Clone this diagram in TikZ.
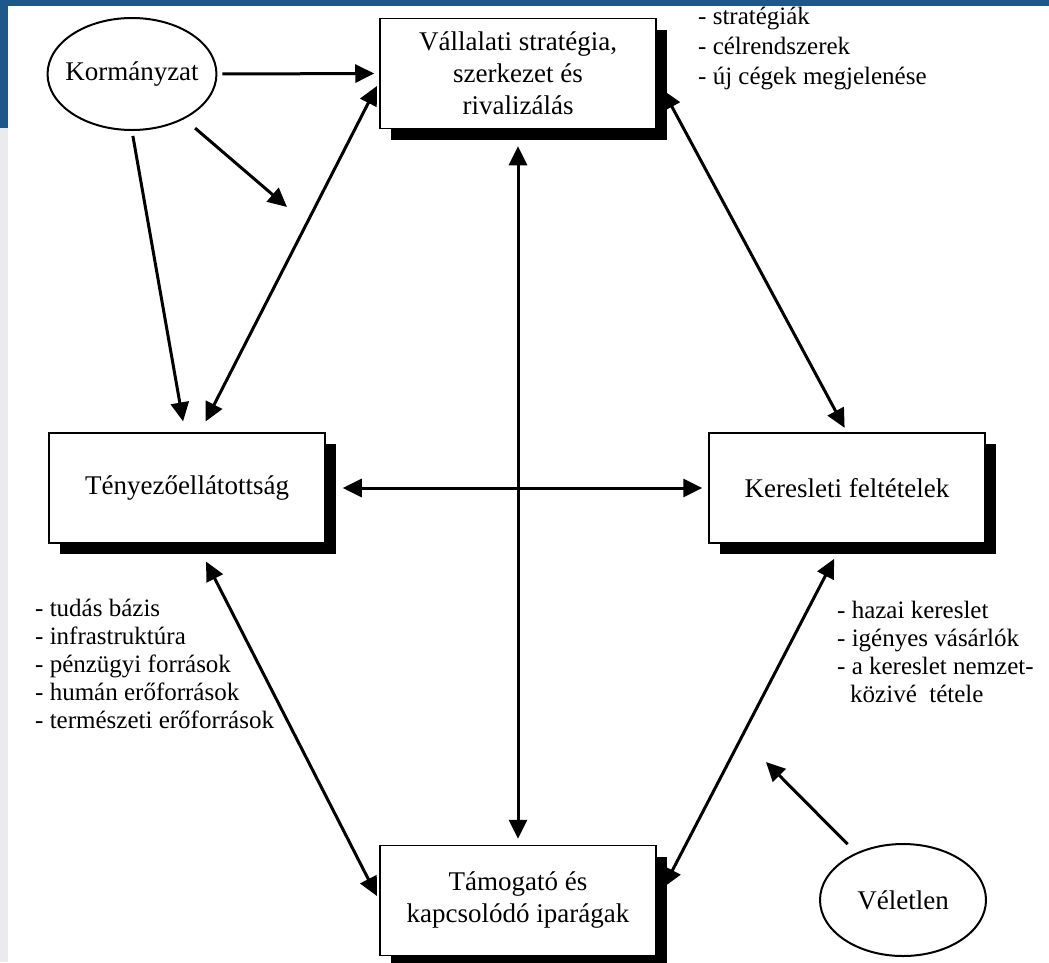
\documentclass[tikz,border=0pt]{standalone}
\usepackage{fontspec}
\setmainfont{Liberation Serif}
\usetikzlibrary{arrows.meta,shapes.geometric,shadows}

\definecolor{slideblue}{RGB}{29,88,138}
\definecolor{slidegray}{RGB}{235,235,238}

\begin{document}
\begin{tikzpicture}[x=1pt,y=-1pt,
  box/.style={draw,line width=1.5pt,fill=white,minimum width=276pt,minimum height=110pt,
    inner sep=0pt,align=center,font=\fontsize{27}{32}\selectfont,
    drop shadow={shadow xshift=11pt,shadow yshift=-11pt,fill=black,opacity=1}},
  oval/.style={ellipse,draw,line width=2pt,fill=white,minimum width=166pt,minimum height=112pt,
    inner xsep=-7pt,inner ysep=0pt,font=\fontsize{27}{32}\selectfont},
  arr/.style={line width=3pt,-{Triangle[length=19pt,width=18pt]}},
  dbl/.style={line width=3pt,{Triangle[length=19pt,width=18pt]}-{Triangle[length=19pt,width=18pt]}},
  list/.style={anchor=north west,inner sep=0pt,align=left,font=\fontsize{25}{28}\selectfont}]

\useasboundingbox (0,0) rectangle (1049,962);
\fill[white] (0,0) rectangle (1049,962);
\fill[slideblue] (0,0) rectangle (1049,6);
\fill[slideblue] (0,0) rectangle (8,128);
\fill[slidegray] (0,128) rectangle (8,962);

\node[oval] (korm) at (132,74) {Kormányzat};
\node[box] (valla) at (518,73.5) {Vállalati stratégia,\\ szerkezet és\\ rivalizálás};
\node[box] (teny) at (187,488) {Tényezőellátottság};
\node[box] (keres) at (847,488) {Keresleti feltételek};
\node[box] (tamog) at (518,900.5) {Támogató és\\ kapcsolódó iparágak};
\node[oval] (velet) at (903,900) {Véletlen};

\node[list,font=\fontsize{25}{30}\selectfont] (stratlist) at (698,7) {- stratégiák\\- célrendszerek\\- új cégek megjelenése};
\node[list] (tenylist) at (35,599) {- tudás bázis\\- infrastruktúra\\- pénzügyi források\\- humán erőforrások\\- természeti erőforrások};
\node[list] (kereslist) at (837,601) {- hazai kereslet\\- igényes vásárlók\\- a kereslet nemzet-\\\hspace*{13pt}közivé\ \ tétele};

\coordinate (kormtip) at (287,207);
\coordinate (velettip) at (766,762);

\draw[arr,shorten <=5pt,shorten >=5pt] (korm.east) -- (valla.west);
\draw[arr,shorten <=14pt] (korm) -- (kormtip);
\draw[arr,shorten <=5pt,shorten >=11pt] (korm.south) -- ([xshift=-2pt]teny.north);
\draw[dbl,shorten <=12pt,shorten >=5pt] ([xshift=13pt]teny.north) -- ([yshift=-8pt]valla.west);
\draw[dbl,shorten <=13pt,shorten >=5pt] ([yshift=-5pt]valla.east) -- (keres.north);
\draw[dbl,shorten <=17pt,shorten >=6pt] (valla.south) -- (tamog.north);
\draw[dbl,shorten <=17pt,shorten >=6pt] (teny.east) -- (keres.west);
\draw[dbl,shorten <=20pt,shorten >=5pt] ([xshift=10pt]teny.south) -- (tamog.west);
\draw[dbl,shorten <=17pt,shorten >=15pt] ([xshift=-5pt]keres.south) -- (tamog.east);
\draw[arr,shorten <=12pt] (velet) -- (velettip);
\end{tikzpicture}
\end{document}
